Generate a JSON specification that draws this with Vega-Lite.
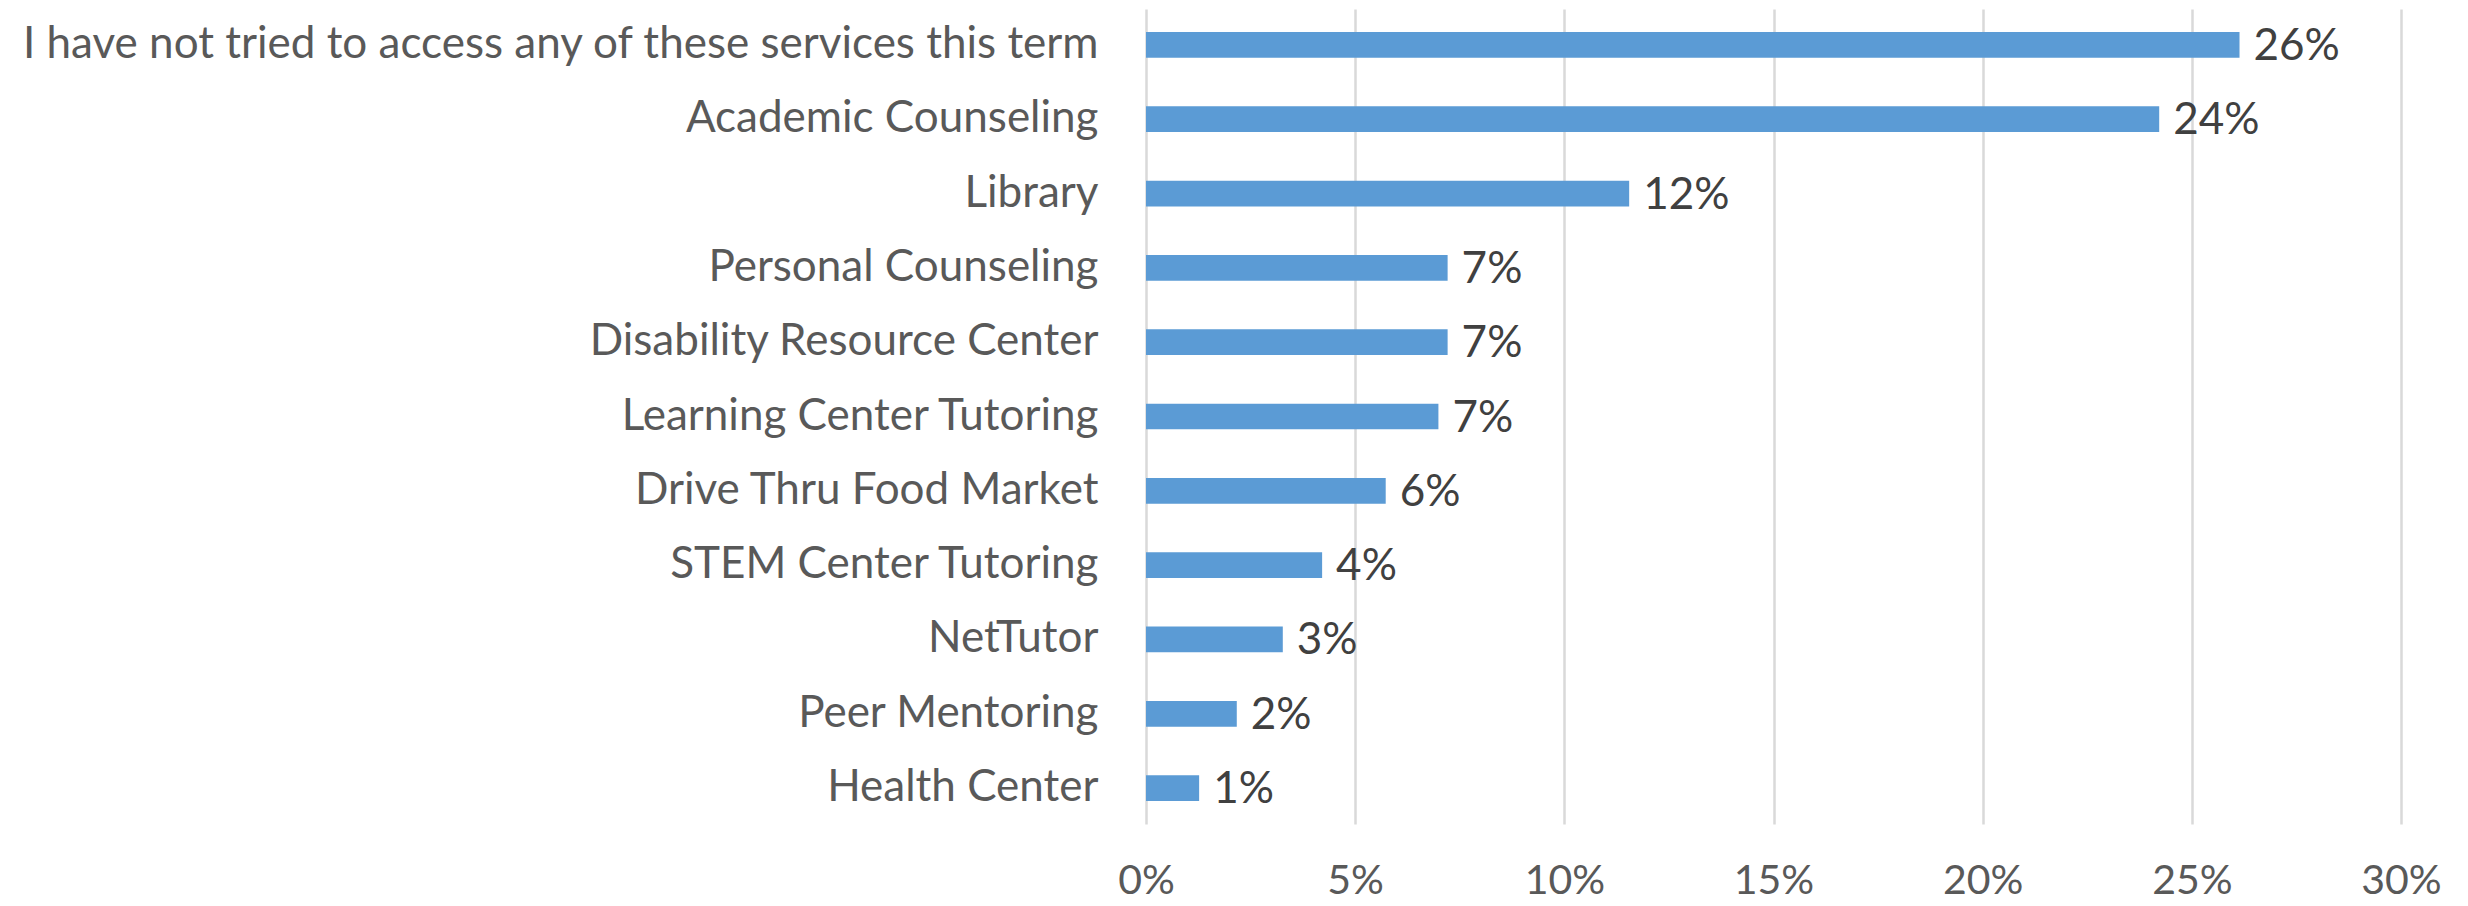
{
  "$schema": "https://vega.github.io/schema/vega-lite/v6.json",
  "width": 1255,
  "height": 815,
  "autosize": {"type": "none"},
  "padding": {"left": 1146, "top": 9, "right": 67, "bottom": 82},
  "background": "white",
  "config": {"view": {"stroke": null}, "font": "Lato"},
  "data": {"values": [
    {"service": "I have not tried to access any of these services this term", "share": 0.2614},
    {"service": "Academic Counseling", "share": 0.2422},
    {"service": "Library", "share": 0.1155},
    {"service": "Personal Counseling", "share": 0.0721},
    {"service": "Disability Resource Center", "share": 0.0721},
    {"service": "Learning Center Tutoring", "share": 0.0699},
    {"service": "Drive Thru Food Market", "share": 0.0573},
    {"service": "STEM Center Tutoring", "share": 0.0421},
    {"service": "NetTutor", "share": 0.0327},
    {"service": "Peer Mentoring", "share": 0.0217},
    {"service": "Health Center", "share": 0.0127}
  ]},
  "encoding": {
    "y": {
      "field": "service", "type": "nominal", "sort": null,
      "scale": {"paddingInner": 0.654, "paddingOuter": 0.31},
      "axis": {"title": null, "domain": false, "ticks": false, "labelPadding": 48, "labelLimit": 1400,
               "labelFontSize": 44, "labelColor": "#595959", "labelFont": "Lato"}
    },
    "x": {
      "field": "share", "type": "quantitative",
      "scale": {"domain": [0, 0.3], "nice": false},
      "axis": {"title": null, "format": ".0%", "values": [0, 0.05, 0.1, 0.15, 0.2, 0.25, 0.3],
               "domain": false, "ticks": false, "grid": true, "gridColor": "#D9D9D9", "gridWidth": 2.5,
               "labelFlush": false, "labelOverlap": false,
               "labelPadding": 37, "labelFontSize": 41, "labelColor": "#595959", "labelFont": "Lato"}
    }
  },
  "layer": [
    {"mark": {"type": "bar", "color": "#5B9BD5"}},
    {"mark": {"type": "text", "align": "left", "baseline": "middle", "dx": 14, "dy": 2, "fontSize": 44, "color": "#404040", "font": "Lato"},
     "encoding": {"text": {"field": "share", "type": "quantitative", "format": ".0%"}}}
  ]
}
